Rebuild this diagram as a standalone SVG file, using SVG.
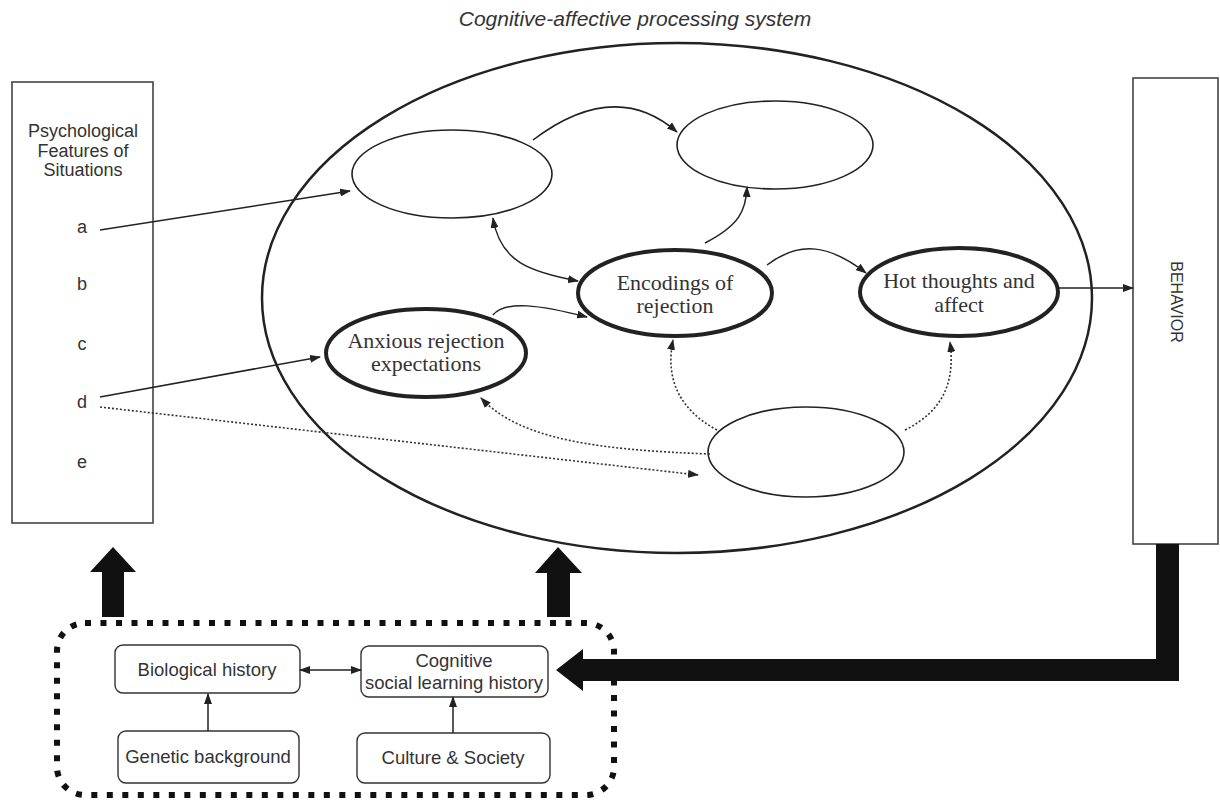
<svg xmlns="http://www.w3.org/2000/svg" width="1220" height="803" viewBox="0 0 1220 803">
<defs>
<marker id="ah" markerUnits="userSpaceOnUse" markerWidth="11" markerHeight="8" refX="10" refY="4" orient="auto-start-reverse">
<path d="M0,0 L11,4 L0,8 z" fill="#222"/>
</marker>
<style>
.sans{font-family:"Liberation Sans",Arial,sans-serif;fill:#333}
.serif{font-family:"Liberation Serif","Times New Roman",serif;fill:#333;font-size:22px;text-anchor:middle}
.thin{fill:#fff;stroke:#222;stroke-width:1.6}
.thick{fill:#fff;stroke:#222;stroke-width:4}
.conn{fill:none;stroke:#222;stroke-width:1.5;marker-end:url(#ah)}
.dot{fill:none;stroke:#333;stroke-width:1.6;stroke-dasharray:2,2;marker-end:url(#ah)}
.box{fill:#fff;stroke:#444;stroke-width:1.6}
.rbox{fill:#fff;stroke:#333;stroke-width:1.4}
.bt{font-size:18.5px;text-anchor:middle}
.lt{font-size:18px;text-anchor:middle}
</style>
</defs>
<rect width="1220" height="803" fill="#fff"/>
<text class="sans" x="635" y="26" font-size="21" font-style="italic" text-anchor="middle">Cognitive-affective processing system</text>

<g id="system">
<ellipse cx="677" cy="298" rx="415" ry="255" fill="none" stroke="#222" stroke-width="2.5"/>
</g>

<g id="situations">
<rect class="box" x="12" y="82" width="141" height="441"/>
<text class="sans lt" x="83" y="137">Psychological</text>
<text class="sans lt" x="83" y="157">Features of</text>
<text class="sans lt" x="83" y="176">Situations</text>
<text class="sans lt" x="82" y="233">a</text>
<text class="sans lt" x="82" y="290">b</text>
<text class="sans lt" x="82" y="350">c</text>
<text class="sans lt" x="82" y="408">d</text>
<text class="sans lt" x="82" y="468">e</text>
</g>

<g id="behavior">
<rect class="box" x="1133" y="78" width="85" height="466"/>
<text class="sans" x="0" y="0" font-size="16" text-anchor="middle" dominant-baseline="central" transform="translate(1176,302) rotate(90)">BEHAVIOR</text>
</g>

<g id="unit-topleft"><ellipse class="thin" cx="452" cy="174" rx="100" ry="44"/></g>
<g id="unit-topright"><ellipse class="thin" cx="775" cy="145" rx="98" ry="44"/></g>
<g id="unit-bottom"><ellipse class="thin" cx="806" cy="452" rx="98" ry="45"/></g>
<g id="anxious">
<ellipse class="thick" cx="426" cy="353" rx="100" ry="44"/>
<text class="serif" x="426" y="348">Anxious rejection</text>
<text class="serif" x="426" y="371">expectations</text>
</g>
<g id="encodings">
<ellipse class="thick" cx="675" cy="293" rx="97" ry="43"/>
<text class="serif" x="675" y="290">Encodings of</text>
<text class="serif" x="675" y="313">rejection</text>
</g>
<g id="hot">
<ellipse class="thick" cx="959" cy="292" rx="99" ry="44"/>
<text class="serif" x="959" y="288">Hot thoughts and</text>
<text class="serif" x="959" y="312">affect</text>
</g>

<g id="history">
<rect x="57" y="623" width="557" height="172" rx="28" fill="none" stroke="#111" stroke-width="6" stroke-dasharray="6,9.5"/>
</g>
<g id="bio"><rect class="rbox" x="115" y="645" width="185" height="48" rx="8"/><text class="sans bt" x="207" y="676">Biological history</text></g>
<g id="cog"><rect class="rbox" x="361" y="646" width="187" height="51" rx="8"/><text class="sans bt" x="454" y="667">Cognitive</text><text class="sans bt" x="454" y="689">social learning history</text></g>
<g id="genetic"><rect class="rbox" x="118" y="731" width="181" height="52" rx="8"/><text class="sans bt" x="208" y="763">Genetic background</text></g>
<g id="culture"><rect class="rbox" x="357" y="733" width="193" height="50" rx="8"/><text class="sans bt" x="453" y="764">Culture &amp; Society</text></g>

<g id="connectors">
<path class="conn" d="M100,230 L350,191"/>
<path class="conn" d="M100,397 L320,357"/>
<path class="dot" d="M100,407 L698,475"/>
<path class="conn" d="M533,140 Q615,78 677,132"/>
<path class="conn" d="M493,218 C500,262 530,272 578,281" marker-start="url(#ah)"/>
<path class="conn" d="M705,243 C740,225 746,210 747,187"/>
<path class="conn" d="M493,315 C505,300 540,305 587,317"/>
<path class="conn" d="M767,265 C800,240 830,245 866,273"/>
<path class="conn" d="M1058,288 L1133,288"/>
<path class="dot" d="M717,430 C680,410 665,380 673,340"/>
<path class="dot" d="M905,430 C945,410 955,380 950,342"/>
<path class="dot" d="M710,454 C600,450 520,440 481,398"/>
<path class="conn" d="M300,670 L361,670" marker-start="url(#ah)"/>
<path class="conn" d="M208,731 L208,694"/>
<path class="conn" d="M453,733 L453,697"/>
<polygon fill="#111" points="102,617 102,572 90,572 113,547 136,572 124,572 124,617"/>
<polygon fill="#111" points="547,617 547,573 535,573 558,547 582,573 570,573 570,617"/>
<path fill="#111" d="M1156,544 L1179,544 L1179,681 L583,681 L583,691 L556,670 L583,649 L583,659 L1156,659 Z"/>
</g>
</svg>
